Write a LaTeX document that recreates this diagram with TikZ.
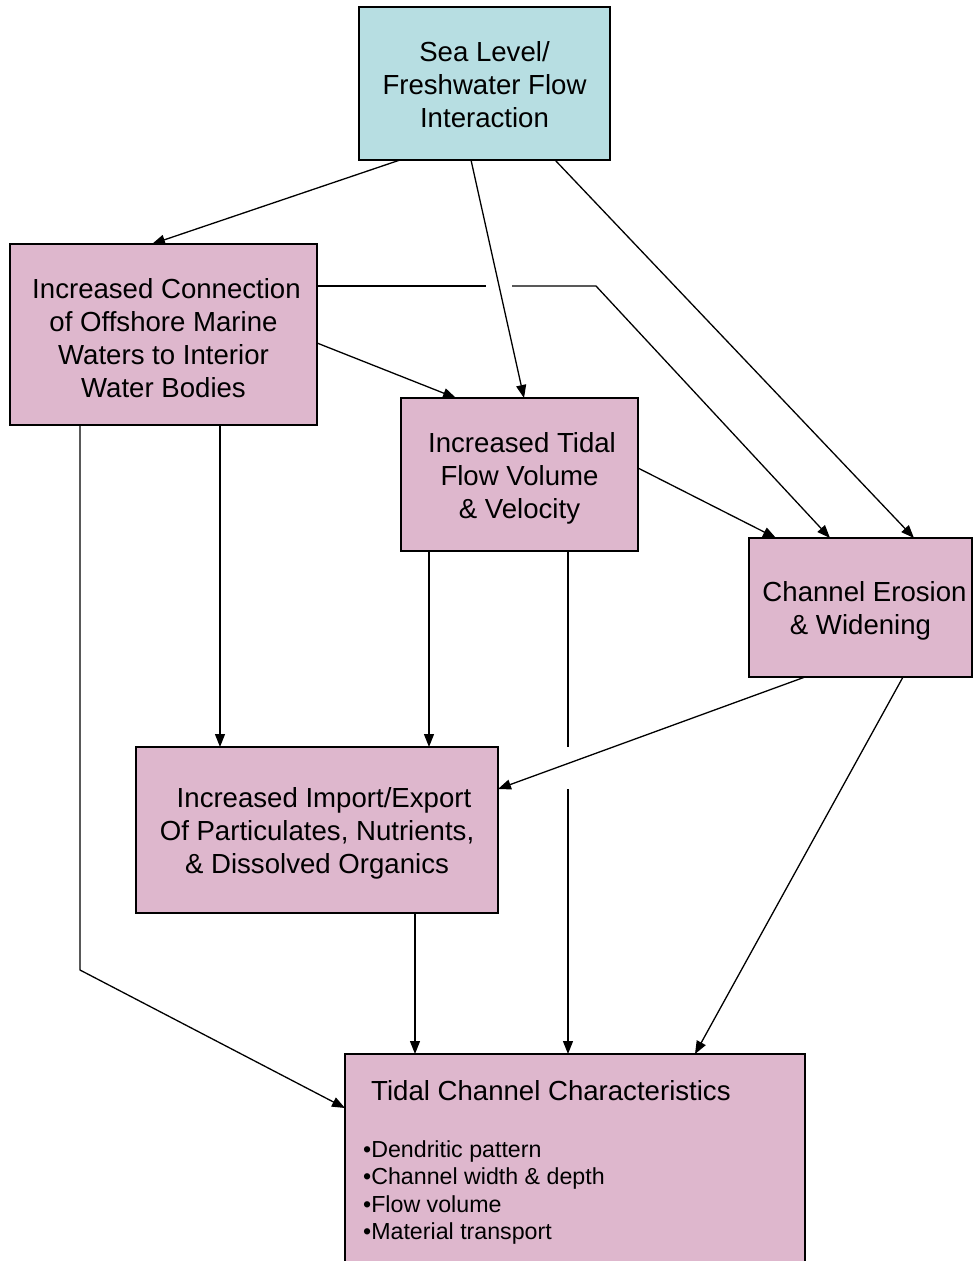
\documentclass[tikz,border=0pt]{standalone}
\usepackage{fontspec}
\setmainfont{Liberation Sans}
\usetikzlibrary{arrows.meta,calc}
\definecolor{seacyan}{RGB}{183,222,226}
\definecolor{boxpink}{RGB}{222,183,205}
% extra room above the first line pushes a box's text block down a little
\newcommand{\boxlead}[1]{\rule{0pt}{#1}}
\begin{document}
\begin{tikzpicture}[x=1pt,y=-1pt,
  box/.style={draw=black, line width=1.3pt, inner sep=0pt, outer sep=0pt, align=center,
    anchor=north west, fill=boxpink, font=\fontsize{27.6}{33}\selectfont},
  arr/.style={line width=1.3pt, -{Triangle[length=13pt,width=10pt]}},
  link/.style={line width=1.3pt}]
\useasboundingbox (0,0) rectangle (973,1261);

% boxes
\node[box, fill=seacyan, minimum width=251pt, minimum height=153pt] (sea) at (359,7)
  {\boxlead{22pt}Sea Level/\\Freshwater Flow\\Interaction};
\node[box, minimum width=307pt, minimum height=181pt] (conn) at (10,244)
  {\boxlead{26.5pt}\hspace*{6pt}Increased Connection\\of Offshore Marine\\Waters to Interior\\Water Bodies};
\node[box, minimum width=237pt, minimum height=153pt] (tidal) at (401,398)
  {\boxlead{27.5pt}\hspace*{5pt}Increased Tidal\\Flow Volume\\\& Velocity};
\node[box, minimum width=223pt, minimum height=139pt] (eros) at (749,538)
  {\boxlead{27.5pt}\hspace*{8pt}Channel Erosion\\\& Widening};
\node[box, minimum width=362pt, minimum height=166pt] (imp) at (136,747)
  {\boxlead{27.5pt}\hspace*{14pt}Increased Import/Export\\Of Particulates, Nutrients,\\\& Dissolved Organics};
\node[box, minimum width=460pt, minimum height=221pt] (char) at (345,1054) {};
\node[anchor=base west, inner sep=0pt, font=\fontsize{27.6}{33}\selectfont] (chartitle)
  at (371,1100) {Tidal Channel Characteristics};
\node[anchor=north west, inner sep=0pt, align=left, font=\fontsize{23.2}{27.5}\selectfont] (charlist)
  at (363,1140) {•Dendritic pattern\\•Channel width \& depth\\•Flow volume\\•Material transport};

% bends and line breaks at crossings
\coordinate (gapL) at (486,286);
\coordinate (gapR) at (512,286);
\coordinate (bendA) at (596,286);
\coordinate (gapT) at (568,747);
\coordinate (gapB) at (568,789);
\coordinate (elbow) at (80,970);

% connectors
\draw[arr] ([xshift=-84.5pt]sea.south) -- ([xshift=-11.5pt]conn.north);
\draw[arr] ([xshift=70.5pt]sea.south) -- ([xshift=53.5pt]eros.north);
\draw[link] ([yshift=48.5pt]conn.east) -- (gapL);
\draw[arr] (gapR) -- (bendA) -- ([xshift=-30.5pt]eros.north);
\draw[arr] ([xshift=-13.5pt]sea.south) -- ([xshift=4.5pt]tidal.north);
\draw[arr] ([yshift=-8.5pt]conn.east) -- ([xshift=-63.5pt]tidal.north);
\draw[arr] ([yshift=6.5pt]tidal.east) -- ([xshift=-84.5pt]eros.north);
\draw[arr] ([xshift=56.5pt]conn.south) -- ([xshift=-97pt]imp.north);
\draw[arr] ([xshift=-90.5pt]tidal.south) -- ([xshift=112pt]imp.north);
\draw[link] ([xshift=48.5pt]tidal.south) -- (gapT);
\draw[arr] (gapB) -- ([xshift=-7pt]char.north);
\draw[arr] ([xshift=-55.5pt]eros.south) -- ([yshift=41pt]imp.east);
\draw[arr] ([xshift=42.5pt]eros.south) -- ([xshift=120pt]char.north);
\draw[arr] ([xshift=98pt]imp.south) -- ([xshift=-160pt]char.north);
\draw[arr] ([xshift=-83.5pt]conn.south) -- (elbow) -- ([yshift=56.5pt]char.west);
\end{tikzpicture}
\end{document}
